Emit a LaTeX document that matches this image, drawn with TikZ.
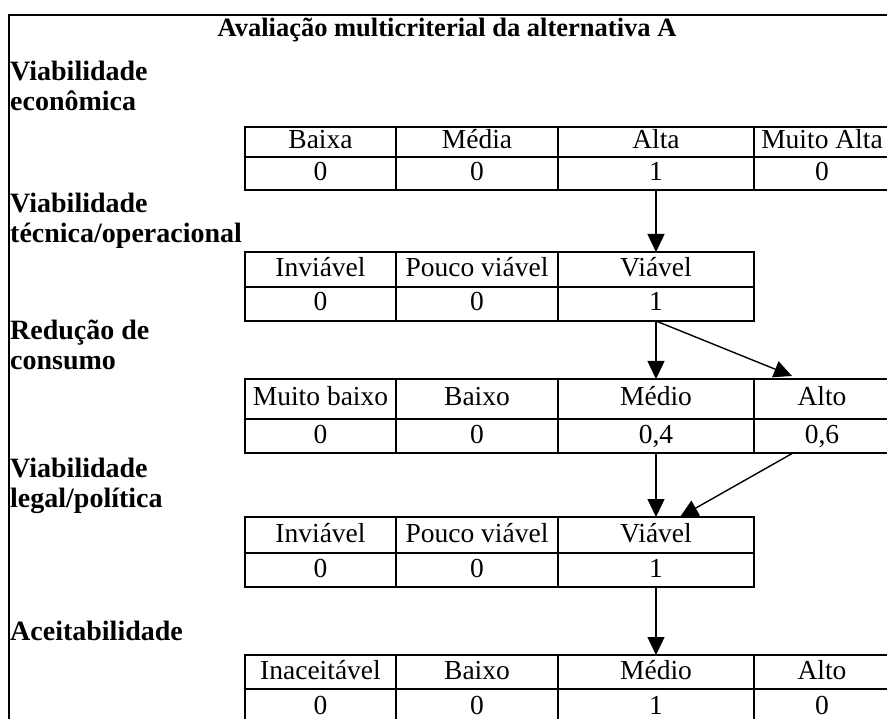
\documentclass[tikz,border=0pt]{standalone}
\usepackage{fontspec}
\setmainfont{Liberation Serif}
\usetikzlibrary{arrows.meta,calc}
\begin{document}
\begin{tikzpicture}[x=1pt,y=-1pt,
  frame/.style={line width=1.3pt},
  cell/.style={draw, line width=1.4pt, inner sep=0pt, outer sep=0pt, anchor=north west,
    font=\fontsize{27.5}{30}\selectfont, text height=18pt, text depth=4pt},
  c1/.style={cell, minimum width=151pt},
  c2/.style={cell, minimum width=162pt},
  c3/.style={cell, minimum width=196pt},
  c4/.style={cell, minimum width=136pt},
  crit/.style={font=\fontsize{28}{30}\selectfont\bfseries, align=left, inner sep=0pt,
    anchor=south west, text depth=0pt},
  link/.style={line width=1.4pt, -{Triangle[length=18pt,width=17pt]}}
]
\clip (0,0) rectangle (887,719);
\fill[white] (0,0) rectangle (887,719);

% outer frame (open to the right and bottom)
\draw[frame] (9,719) -- (9,15) -- (887,15);

% title
\node[font=\fontsize{26.5}{30}\selectfont\bfseries, anchor=base, inner sep=0pt] (title) at (447,37)
  {Avaliação multicriterial da alternativa A};

% criterion labels
\node[crit] (k1) at (10,111) {Viabilidade\\econômica};
\node[crit] (k2) at (10,243) {Viabilidade\\técnica/operacional};
\node[crit] (k3) at (10,370) {Redução de\\consumo};
\node[crit] (k4) at (10,508) {Viabilidade\\legal/política};
\node[crit] (k5) at (10,641) {Aceitabilidade};

% table 1: viabilidade econômica
\node[c1, minimum height=30pt] (t1h1) at (245,127) {Baixa};
\node[c2, minimum height=30pt] (t1h2) at (396,127) {Média};
\node[c3, minimum height=30pt] (t1h3) at (558,127) {Alta};
\node[c4, minimum height=30pt] (t1h4) at (754,127) {Muito Alta};
\node[c1, minimum height=33pt] (t1v1) at (245,157) {0};
\node[c2, minimum height=33pt] (t1v2) at (396,157) {0};
\node[c3, minimum height=33pt] (t1v3) at (558,157) {1};
\node[c4, minimum height=33pt] (t1v4) at (754,157) {0};

% table 2: viabilidade técnica/operacional
\node[c1, minimum height=35pt] (t2h1) at (245,252) {Inviável};
\node[c2, minimum height=35pt] (t2h2) at (396,252) {Pouco viável};
\node[c3, minimum height=35pt] (t2h3) at (558,252) {Viável};
\node[c1, minimum height=34pt] (t2v1) at (245,287) {0};
\node[c2, minimum height=34pt] (t2v2) at (396,287) {0};
\node[c3, minimum height=34pt] (t2v3) at (558,287) {1};

% table 3: redução de consumo
\node[c1, minimum height=40pt] (t3h1) at (245,379) {Muito baixo};
\node[c2, minimum height=40pt] (t3h2) at (396,379) {Baixo};
\node[c3, minimum height=40pt] (t3h3) at (558,379) {Médio};
\node[c4, minimum height=40pt] (t3h4) at (754,379) {Alto};
\node[c1, minimum height=34pt] (t3v1) at (245,419) {0};
\node[c2, minimum height=34pt] (t3v2) at (396,419) {0};
\node[c3, minimum height=34pt] (t3v3) at (558,419) {0,4};
\node[c4, minimum height=34pt] (t3v4) at (754,419) {0,6};

% table 4: viabilidade legal/política
\node[c1, minimum height=36pt] (t4h1) at (245,517) {Inviável};
\node[c2, minimum height=36pt] (t4h2) at (396,517) {Pouco viável};
\node[c3, minimum height=36pt] (t4h3) at (558,517) {Viável};
\node[c1, minimum height=34pt] (t4v1) at (245,553) {0};
\node[c2, minimum height=34pt] (t4v2) at (396,553) {0};
\node[c3, minimum height=34pt] (t4v3) at (558,553) {1};

% table 5: aceitabilidade
\node[c1, minimum height=34pt] (t5h1) at (245,655) {Inaceitável};
\node[c2, minimum height=34pt] (t5h2) at (396,655) {Baixo};
\node[c3, minimum height=34pt] (t5h3) at (558,655) {Médio};
\node[c4, minimum height=34pt] (t5h4) at (754,655) {Alto};
\node[c1, minimum height=36pt] (t5v1) at (245,689) {0};
\node[c2, minimum height=36pt] (t5v2) at (396,689) {0};
\node[c3, minimum height=36pt] (t5v3) at (558,689) {1};
\node[c4, minimum height=36pt] (t5v4) at (754,689) {0};

% propagation arrows
\coordinate (t3tip) at ($(t3h4.north west)+(38,-3)$);
\coordinate (t3from) at ($(t3v4.south west)+(39,0)$);
\coordinate (t4tip) at ($(t4h3.north)+(24,0)$);
\draw[link] (t1v3.south) -- (t2h3.north);
\draw[link] (t2v3.south) -- (t3h3.north);
\draw[link] (t2v3.south) -- (t3tip);
\draw[link] (t3v3.south) -- (t4h3.north);
\draw[link] (t3from) -- (t4tip);
\draw[link] (t4v3.south) -- (t5h3.north);
\end{tikzpicture}
\end{document}
